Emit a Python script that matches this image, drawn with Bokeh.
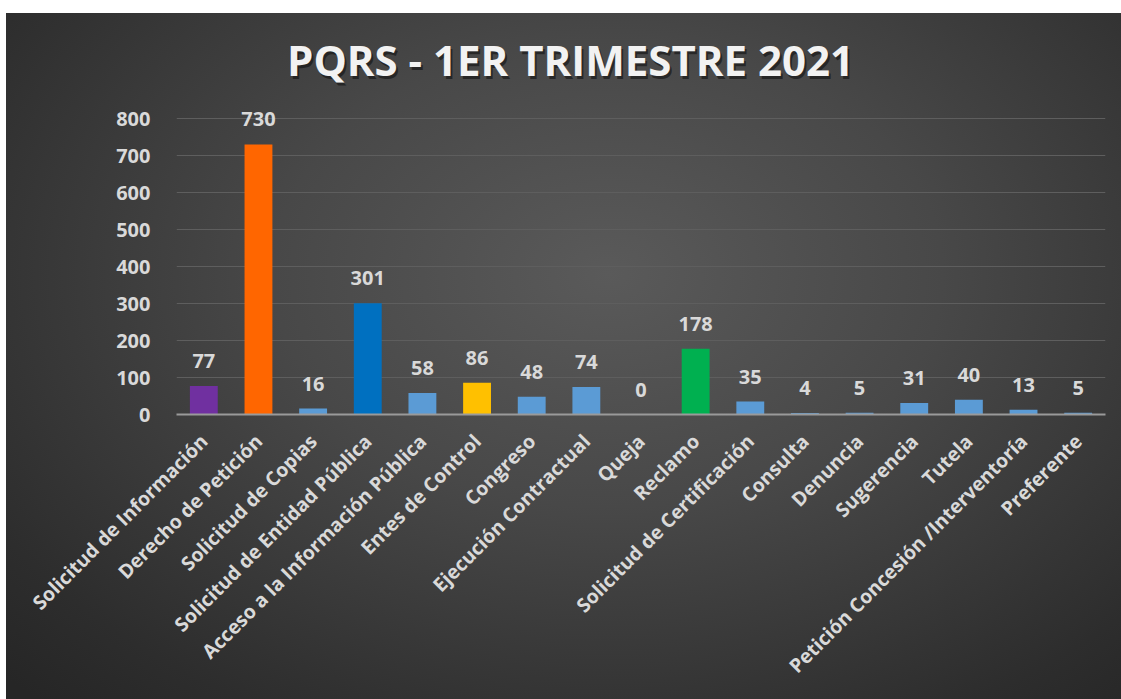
import math
from bokeh.plotting import figure
from bokeh.models import ColumnDataSource, FactorRange, Range1d, FixedTicker, LabelSet, Label, Spacer
from bokeh.layouts import column, row
from bokeh.core.properties import value
from bokeh.embed import file_html
from bokeh.resources import INLINE

categories = ["Solicitud de Información", "Derecho de Petición", "Solicitud de Copias",
              "Solicitud de Entidad Pública", "Acceso a la Información Pública", "Entes de Control",
              "Congreso", "Ejecución Contractual", "Queja", "Reclamo", "Solicitud de Certificación",
              "Consulta", "Denuncia", "Sugerencia", "Tutela", "Petición Concesión /Interventoría",
              "Preferente"]
values = [77, 730, 16, 301, 58, 86, 48, 74, 0, 178, 35, 4, 5, 31, 40, 13, 5]
colors = ["#7030a0", "#ff6600", "#5b9bd5", "#0070c0", "#5b9bd5", "#ffc000", "#5b9bd5",
          "#5b9bd5", "#5b9bd5", "#00b050", "#5b9bd5", "#5b9bd5", "#5b9bd5", "#5b9bd5",
          "#5b9bd5", "#5b9bd5", "#5b9bd5"]
y_ticks = [0, 100, 200, 300, 400, 500, 600, 700, 800]
title_text = "PQRS - 1ER TRIMESTRE 2021"

src = ColumnDataSource(dict(cat=categories, val=values, col=colors,
                            lab=[str(v) for v in values]))

FONT = "Open Sans"
TXT = "#d9d9d9"

p = figure(width=1115, height=686, output_backend="svg", toolbar_location=None,
           x_range=FactorRange(*categories, range_padding=0),
           y_range=Range1d(0, 1064.9),
           min_border_left=170, min_border_right=16, min_border_top=7, min_border_bottom=285)
p.styles = {"background": "radial-gradient(ellipse 75% 85% at 54% 38%, #5a5a5a 0%, #484848 40%, #2d2d2d 85%, #262626 100%)"}
p.border_fill_alpha = 0
p.background_fill_alpha = 0
p.outline_line_color = None

p.vbar(x="cat", top="val", width=0.51, source=src, fill_color="col", line_color=None)

labels = LabelSet(x="cat", y="val", text="lab", source=src, text_align="center",
                  text_baseline="alphabetic", y_offset=18, text_font=value(FONT),
                  text_font_style="bold", text_font_size="20px", text_color=TXT)
p.add_layout(labels)

# title (drawn as label with subtle shadow)
tx = 7.21
ty = 959.0
shadow = Label(x=tx, y=ty, x_offset=2, y_offset=-3, text=title_text, text_align="center",
               text_baseline="alphabetic", text_font=FONT, text_font_style="bold",
               text_font_size="42px", text_color="#111111", text_alpha=0.6)
ttl = Label(x=tx, y=ty, text=title_text, text_align="center", text_baseline="alphabetic",
            text_font=FONT, text_font_style="bold", text_font_size="42px", text_color="#f2f2f2")
p.add_layout(shadow)
p.add_layout(ttl)

p.xgrid.grid_line_color = None
p.ygrid.grid_line_color = "#5e5e5e"
p.ygrid.grid_line_width = 1
p.yaxis.ticker = FixedTicker(ticks=y_ticks)
p.ygrid.ticker = FixedTicker(ticks=y_ticks)

p.yaxis.axis_line_color = None
p.yaxis.major_tick_line_color = None
p.yaxis.minor_tick_line_color = None
p.yaxis.major_label_standoff = 20
p.yaxis.major_label_text_font = FONT
p.yaxis.major_label_text_font_style = "bold"
p.yaxis.major_label_text_font_size = "20px"
p.yaxis.major_label_text_color = TXT

p.xaxis.axis_line_color = "#9a9a9a"
p.xaxis.axis_line_width = 2
p.xaxis.major_tick_line_color = None
p.xaxis.minor_tick_line_color = None
p.xaxis.major_label_orientation = math.pi / 4
p.xaxis.major_label_standoff = 17
p.xaxis.major_label_text_font = FONT
p.xaxis.major_label_text_font_style = "bold"
p.xaxis.major_label_text_font_size = "19.5px"
p.xaxis.major_label_text_color = TXT

layout = column(Spacer(height=13), row(Spacer(width=6), p))
open("out.html", "w").write(file_html(layout, INLINE))
